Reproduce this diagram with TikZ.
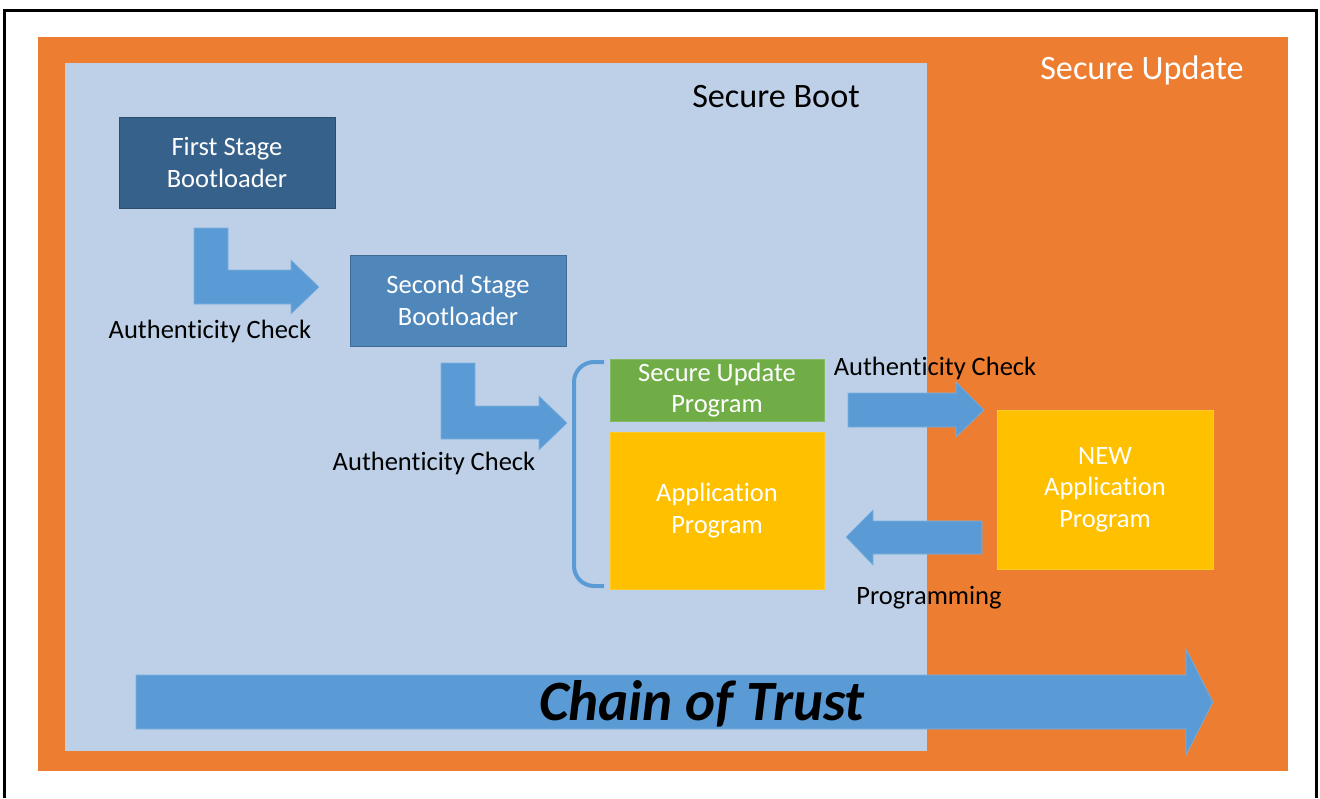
\documentclass[tikz,border=0pt]{standalone}
\usepackage{fontspec}
\setmainfont{Carlito}[Ligatures=NoCommon]
\usetikzlibrary{positioning,calc}
\definecolor{updorange}{RGB}{237,125,49}
\definecolor{bootblue}{RGB}{189,208,232}
\definecolor{arrblue}{RGB}{91,155,213}
\definecolor{darkbox}{RGB}{54,97,138}
\definecolor{midbox}{RGB}{79,135,186}
\definecolor{supgreen}{RGB}{112,173,71}
\definecolor{appyellow}{RGB}{255,192,0}
\newcommand{\boxfont}{\fontsize{26.5}{31.5}\selectfont}
\newcommand{\lblfont}{\fontsize{26.5}{31}\selectfont}

\begin{document}
\begin{tikzpicture}
[x=1pt,y=-1pt,
stage/.style={draw=#1!80!black,fill=#1,text=white,align=center,inner sep=0pt,
  font=\boxfont,minimum width=216pt,minimum height=91pt},
prog/.style={draw=#1!85!white,fill=#1,text=white,align=center,inner sep=0pt,
  font=\boxfont,minimum width=214pt},
fatarrow/.style={fill=arrblue,draw=arrblue!80!white,line width=.6pt},
lbl/.style={font=\lblfont,anchor=base,inner sep=0pt},
title/.style={font=\fontsize{34.2}{38}\selectfont,anchor=base,inner sep=0pt}]
\useasboundingbox (0,0) rectangle (1320,798);
%%
% frame and regions
%%
\draw[line width=3pt] (4.5,798) -- (4.5,10.5) -- (1316.5,10.5) -- (1316.5,798);
\fill[updorange] (38,37) rectangle (1288,771);
\fill[bootblue] (65,63) rectangle (927,751);
\node[title,text=white] (updtitle) at (1142,79) {Secure Update};
\node[title] (boottitle) at (776,107) {Secure Boot};
%%
% boot stages
%%
\node[stage=darkbox] (fsbl) at (227,162.5) {First Stage\\Bootloader};
\node[stage=midbox] (ssbl) at (458,300.5) {Second Stage\\Bootloader};
%
\fill[fatarrow] (194,228) -- (228,228) -- (228,270) -- (291,270) -- (291,260)
  -- (319,287) -- (291,314) -- (291,304) -- (194,304) -- cycle;
\node[lbl] (chk1) at (210,338) {Authenticity Check};
%
\fill[fatarrow] (441,363) -- (475,363) -- (475,406) -- (539,406) -- (539,396)
  -- (567,423) -- (539,450) -- (539,439) -- (441,439) -- cycle;
\node[lbl] (chk2) at (434,470) {Authenticity Check};
%%
% programs
%%
\draw[arrblue,line width=4pt,rounded corners=20pt]
  (604,362) -| (574,586) -- (604,586);
\node[prog=supgreen,minimum height=62pt] (supd) at (717,390) {Secure Update\\Program};
\node[prog=appyellow,minimum height=157pt] (app) at (717,510.5) {Application\\Program};
\node[prog=appyellow,minimum width=216pt,minimum height=159pt] (newapp) at (1105,489.5)
  {NEW\\Application\\Program};
%
\fill[fatarrow] (848,393) -- (956,393) -- (956,382) -- (984,410) -- (956,437)
  -- (956,427) -- (848,427) -- cycle;
\node[lbl] (chk3) at (935,375) {Authenticity Check};
%
\fill[fatarrow] (982,521) -- (873,521) -- (873,510) -- (846,537) -- (873,565)
  -- (873,554) -- (982,554) -- cycle;
\node[lbl] (progr) at (929,604) {Programming};
%%
% chain of trust
%%
\fill[fatarrow] (136,675) -- (1186,675) -- (1186,649) -- (1213,702) -- (1186,755)
  -- (1186,729) -- (136,729) -- cycle;
\node[anchor=base,inner sep=0pt,font=\fontsize{57}{61}\selectfont\bfseries\itshape]
  (trust) at (702,720) {Chain of Trust};
\end{tikzpicture}
\end{document}
